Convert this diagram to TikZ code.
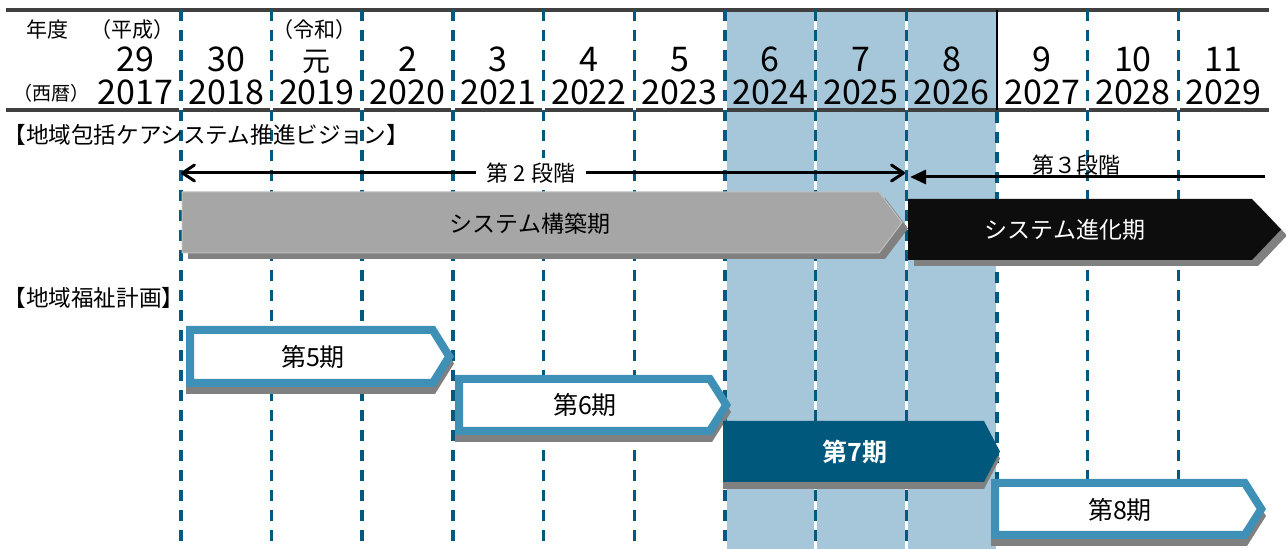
\documentclass[tikz,border=0pt]{standalone}
\usepackage{fontspec}
\setmainfont{Noto Sans CJK JP}[BoldFont={Noto Sans CJK JP Bold}]
\usetikzlibrary{arrows.meta}
\definecolor{shadeblue}{HTML}{A6C6D9}
\definecolor{dashblue}{HTML}{005A80}
\definecolor{hdrline}{HTML}{404040}
\definecolor{bordblue}{HTML}{3F90B6}
\definecolor{pseven}{HTML}{00587C}
\definecolor{shadowgray}{HTML}{808080}
\definecolor{grayfill}{HTML}{A6A6A6}
\definecolor{grayedge}{HTML}{C0C0C0}
\definecolor{blackfill}{HTML}{0D0D0D}
\newcommand\gensize{\fontsize{14}{14}\selectfont}
\tikzset{
  hdr/.style={draw=hdrline, line width=1.75pt},
  divwhite/.style={draw=white, line width=1.7pt},
  divdash/.style={draw=dashblue, line width=1.7pt, dash pattern=on 5.5pt off 4.5pt},
  divsolid/.style={draw=black, line width=1pt},
  yrtext/.style={font=\fontsize{17}{17}\selectfont, inner sep=0pt, anchor=base},
  hlabel/.style={font=\fontsize{10.5}{10.5}\selectfont, inner sep=0pt},
  sect/.style={font=\fontsize{11.3}{11.3}\selectfont, inner sep=0pt, anchor=west},
  stagelbl/.style={font=\fontsize{11}{11}\selectfont},
  boxlbl/.style={font=\fontsize{11.5}{11.5}\selectfont, inner sep=0pt},
  perlbl/.style={font=\fontsize{12.5}{12.5}\selectfont, inner sep=0pt},
  perbox/.style={draw=bordblue, fill=white, line width=4pt, line join=miter},
  shadowfill/.style={fill=shadowgray},
  stageline/.style={draw=black, line width=1.5pt},
}
\begin{document}
\begin{tikzpicture}[x=0.5pt,y=-0.5pt]
\useasboundingbox (0,0) rectangle (1286,549);
% shaded years 2024-2026
\fill[shadeblue] (726,10) rectangle (996,549);
% header rules
\draw[hdr] (6,10) -- (1269,10);
\draw[hdr] (6,110) -- (1269,110);
% column dividers
\foreach \k in {0,...,11} {
  \pgfmathsetmacro\xx{180.8+90.68*\k}
  \ifnum\k=9
    \draw[divsolid] (\xx,10) -- (\xx,110);
    \draw[divdash] (\xx,112) -- (\xx,549);
  \else
    \draw[divwhite] (\xx,10) -- (\xx,549);
    \draw[divdash] (\xx,10) -- (\xx,549);
  \fi
}
% header texts
\node[hlabel] (nendo) at (47,30) {年度};
\node[hlabel] (heisei) at (132.5,30) {（平成）};
\node[hlabel] (reiwa) at (314,30) {（令和）};
\node[hlabel, font=\fontsize{9.5}{9.5}\selectfont] (seireki) at (51.5,93) {（西暦）};
\foreach \i/\a/\b in {0/29/2017,1/30/2018,2/{\gensize 元}/2019,3/2/2020,4/3/2021,5/4/2022,6/5/2023,7/6/2024,8/7/2025,9/8/2026,10/9/2027,11/10/2028,12/11/2029} {
  \node[yrtext] (era\i) at ({135.5+90.68*\i},72) {\a};
  \node[yrtext] (yr\i) at ({135.5+90.68*\i},105) {\b};
}
% section labels
\node[sect] (vision) at (3,135) {【地域包括ケアシステム推進ビジョン】};
\node[sect] (plan) at (3,298) {【地域福祉計画】};
% stage arrows
\coordinate (s2l) at (181,173);
\coordinate (s2r) at (905,173);
\draw[stageline, {Straight Barb[length=6pt,width=8pt,round]}-{Straight Barb[length=6pt,width=8pt,round]}] (s2l) -- (s2r);
\node[stagelbl, fill=white, inner xsep=5.5pt, inner ysep=2.5pt] (s2t) at (531,173) {第 2 段階};
\coordinate (s3r) at (1265,177);
\coordinate (s3l) at (910,177);
\draw[stageline, -{Triangle[length=8pt,width=7pt]}] (s3r) -- (s3l);
\node[stagelbl, inner sep=0pt] (s3t) at (1076,165) {第３段階};
% system construction (gray)
\fill[shadowfill] (188,198) -- (885,198) -- (908,228.5) -- (885,259) -- (188,259) -- cycle;
\filldraw[fill=grayfill, draw=grayedge, line width=0.5pt] (182,192) -- (879,192) -- (902,222.5) -- (879,253) -- (182,253) -- cycle;
\node[boxlbl] (build) at (530,224) {システム構築期};
% system evolution (black)
\fill[shadowfill] (914,205) -- (1258,205) -- (1287,235.5) -- (1258,266) -- (914,266) -- cycle;
\fill[blackfill] (908,199) -- (1252,199) -- (1281,229.5) -- (1252,260) -- (908,260) -- cycle;
\node[boxlbl, text=white] (evolve) at (1065,230) {システム進化期};
% period 5
\fill[shadowfill] (186,333) -- (435,333) -- (454,363.5) -- (435,394) -- (186,394) -- cycle;
\draw[perbox] (190,330) -- (432.8,330) -- (449.3,356.5) -- (432.8,383) -- (190,383) -- cycle;
\node[perlbl] (p5) at (313,357) {第5期};
% period 6
\fill[shadowfill] (455,382) -- (712,382) -- (731,412) -- (712,442) -- (455,442) -- cycle;
\draw[perbox] (459,379) -- (709.8,379) -- (726.3,405) -- (709.8,431) -- (459,431) -- cycle;
\node[perlbl] (p6) at (585,405) {第6期};
% period 7
\fill[shadowfill] (723,428) -- (984,428) -- (1000,458.5) -- (984,489) -- (723,489) -- cycle;
\fill[pseven] (723,421) -- (984,421) -- (1000,451.5) -- (984,482) -- (723,482) -- cycle;
\node[perlbl, text=white, font=\fontsize{12.5}{12.5}\selectfont\bfseries] (p7) at (855,452) {第7期};
% period 8
\fill[shadowfill] (991,486) -- (1247,486) -- (1266,516) -- (1247,546) -- (991,546) -- cycle;
\draw[perbox] (995,483) -- (1244.8,483) -- (1261.3,509) -- (1244.8,535) -- (995,535) -- cycle;
\node[perlbl] (p8) at (1120,510) {第8期};
\end{tikzpicture}
\end{document}
